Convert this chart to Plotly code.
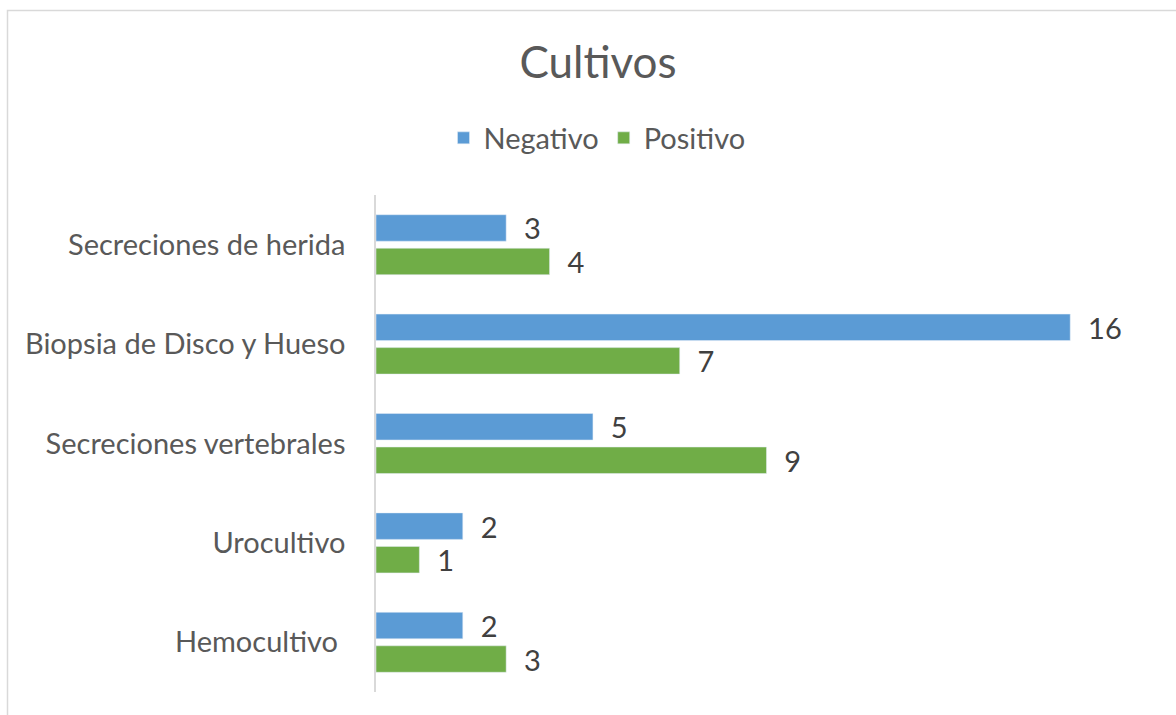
import plotly.graph_objects as go

categories = ["Secreciones de herida", "Biopsia de Disco y Hueso", "Secreciones vertebrales", "Urocultivo", "Hemocultivo "]
negativo = [3, 16, 5, 2, 2]
positivo = [4, 7, 9, 1, 3]

W, H = 1176, 715
L, R, T, B = 376, 19, 195, 23
pw, ph = W - L - R, H - T - B
FONT = "Lato"
NB = "\u00a0\u00a0"

fig = go.Figure()
fig.add_trace(go.Bar(y=categories, x=negativo, orientation="h", name="Negativo",
                     marker=dict(color="#5B9BD5"), text=[f"{NB}{v}" for v in negativo],
                     textposition="outside", cliponaxis=False, constraintext="none",
                     textfont=dict(size=29, color="#404040", family=FONT)))
fig.add_trace(go.Bar(y=categories, x=positivo, orientation="h", name="Positivo",
                     marker=dict(color="#70AD47"), text=[f"{NB}{v}" for v in positivo],
                     textposition="outside", cliponaxis=False, constraintext="none",
                     textfont=dict(size=29, color="#404040", family=FONT)))

fig.update_layout(
    width=W, height=H,
    margin=dict(l=L, r=R, t=T, b=B),
    paper_bgcolor="white", plot_bgcolor="white",
    font=dict(family=FONT, color="#595959"),
    barmode="group", bargap=0.326, bargroupgap=0.21,
    title=dict(text="Cultivos", x=598 / W, xanchor="center", y=1 - 63 / H, yanchor="middle",
               font=dict(size=44, color="#595959", family=FONT)),
    legend=dict(orientation="h", x=(597 - L) / pw, xanchor="center", y=(H - B - 138) / ph,
                yanchor="middle", font=dict(size=29, color="#595959", family=FONT),
                traceorder="normal"),
    xaxis=dict(range=[0, 18], showgrid=False, showticklabels=False, zeroline=False,
               showline=False),
    yaxis=dict(autorange="reversed", showline=True, linecolor="#D9D9D9", linewidth=1.5,
               showgrid=False, ticks="", ticklabelstandoff=23,
               tickfont=dict(size=29, color="#595959", family=FONT)),
    shapes=[dict(type="rect", xref="paper", yref="paper",
                 x0=(7.5 - L) / pw, x1=(W + 10 - L) / pw,
                 y0=(H - B - (H + 10)) / ph, y1=(H - B - 10.5) / ph,
                 line=dict(color="#D9D9D9", width=1.5), fillcolor="rgba(0,0,0,0)", layer="below")],
)

fig.write_html("out.html", config={"displayModeBar": False},
               post_script="document.body.style.margin='0';document.body.style.overflow='hidden';")
